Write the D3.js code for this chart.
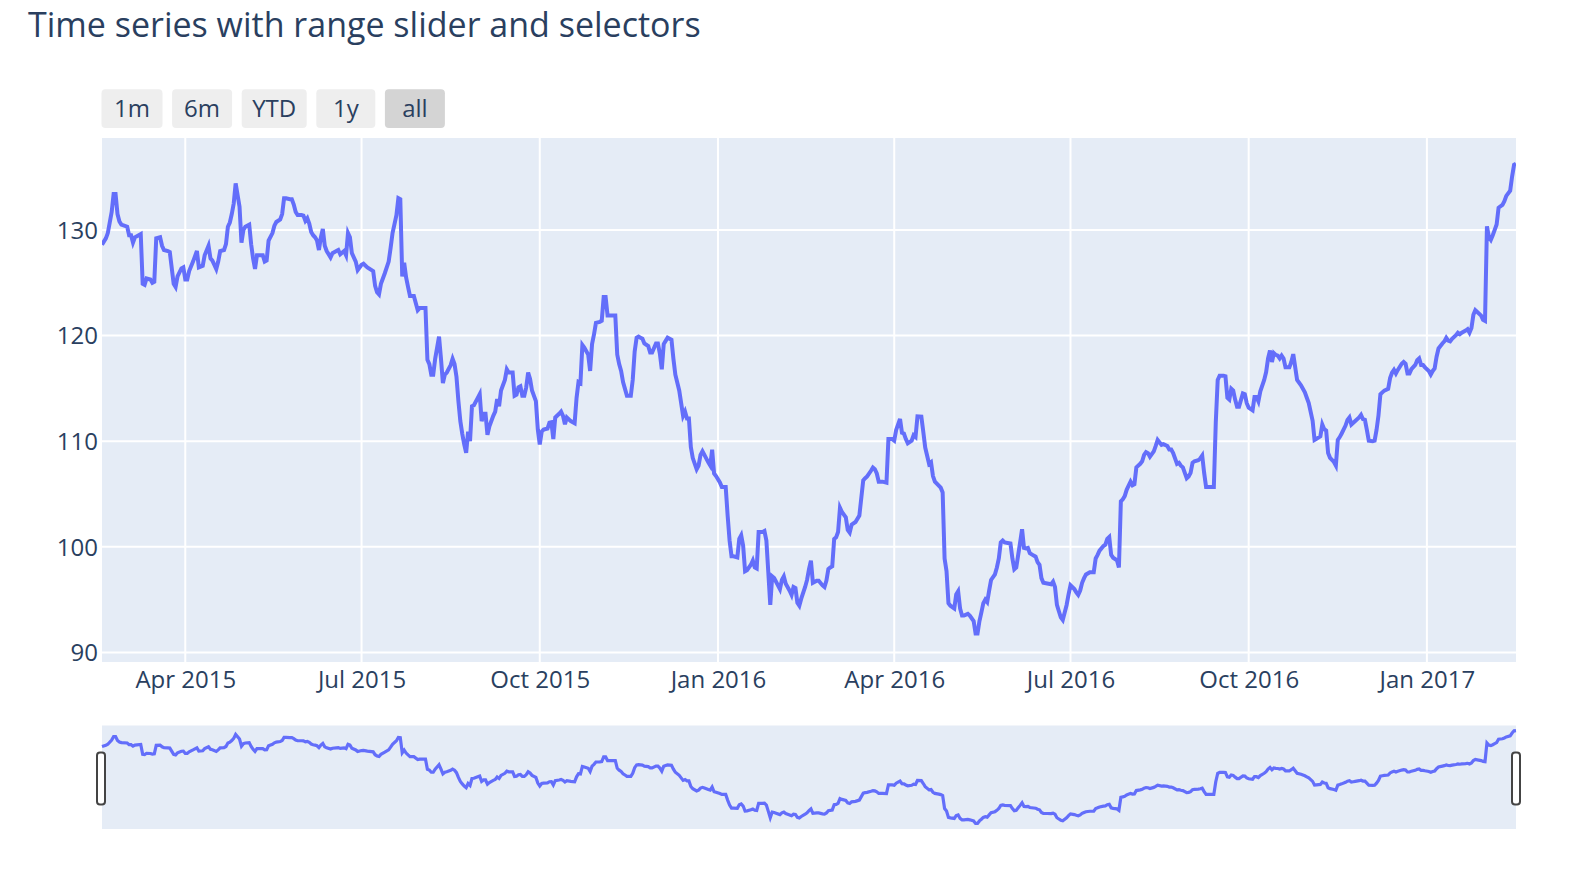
<!DOCTYPE html>
<html><head><meta charset="utf-8">
<script src="https://cdn.jsdelivr.net/npm/d3@7"></script>
<style>
html,body{margin:0;padding:0;background:#fff;}
svg{display:block;font-family:"Open Sans",verdana,arial,sans-serif;}
</style>
</head><body>
<svg id="chart" width="1591" height="880"></svg>
<script>
const chartTitle = "Time series with range slider and selectors";
const selectorLabels = ["1m","6m","YTD","1y","all"];
const activeSelector = "all";
const yTickValues = [90,100,110,120,130];
const xTickDates = ["2015-04-01","2015-07-01","2015-10-01","2016-01-01","2016-04-01","2016-07-01","2016-10-01","2017-01-01"];
const xTickLabels = ["Apr 2015","Jul 2015","Oct 2015","Jan 2016","Apr 2016","Jul 2016","Oct 2016","Jan 2017"];
const yAxisRange = [89.1, 138.7];

const dates = [
"2015-02-17","2015-02-19","2015-02-20","2015-02-22","2015-02-23","2015-02-24","2015-02-25","2015-02-26","2015-02-27",
"2015-03-02","2015-03-03","2015-03-04","2015-03-05","2015-03-06","2015-03-09","2015-03-10","2015-03-11","2015-03-12","2015-03-14","2015-03-15","2015-03-16","2015-03-17","2015-03-19","2015-03-20","2015-03-21","2015-03-23","2015-03-24","2015-03-26","2015-03-27","2015-03-28","2015-03-30","2015-03-31",
"2015-04-01","2015-04-02","2015-04-03","2015-04-05","2015-04-07","2015-04-08","2015-04-10","2015-04-11","2015-04-13","2015-04-14","2015-04-15","2015-04-17","2015-04-18","2015-04-19","2015-04-21","2015-04-22","2015-04-23","2015-04-24","2015-04-25","2015-04-26","2015-04-27","2015-04-29","2015-04-30",
"2015-05-01","2015-05-02","2015-05-04","2015-05-05","2015-05-06","2015-05-07","2015-05-08","2015-05-10","2015-05-11","2015-05-12","2015-05-13","2015-05-14","2015-05-16","2015-05-17","2015-05-18","2015-05-20","2015-05-21","2015-05-22","2015-05-23","2015-05-25","2015-05-26","2015-05-27","2015-05-28","2015-05-29","2015-05-31",
"2015-06-01","2015-06-02","2015-06-03","2015-06-04","2015-06-05","2015-06-06","2015-06-07","2015-06-08","2015-06-09","2015-06-10","2015-06-11","2015-06-12","2015-06-13","2015-06-15","2015-06-16","2015-06-18","2015-06-19","2015-06-20","2015-06-22","2015-06-23","2015-06-24","2015-06-25","2015-06-26","2015-06-28","2015-06-29",
"2015-07-01","2015-07-02","2015-07-04","2015-07-07","2015-07-08","2015-07-09","2015-07-10","2015-07-11","2015-07-13","2015-07-15","2015-07-16","2015-07-17","2015-07-19","2015-07-20","2015-07-21","2015-07-22","2015-07-23","2015-07-24","2015-07-25","2015-07-26","2015-07-28","2015-07-30","2015-07-31",
"2015-08-03","2015-08-04","2015-08-05","2015-08-06","2015-08-07","2015-08-08","2015-08-10","2015-08-11","2015-08-12","2015-08-13","2015-08-14","2015-08-16","2015-08-17","2015-08-18","2015-08-19","2015-08-20","2015-08-21","2015-08-22","2015-08-23","2015-08-24","2015-08-25","2015-08-26","2015-08-27","2015-08-28","2015-08-30","2015-08-31",
"2015-09-01","2015-09-02","2015-09-03","2015-09-04","2015-09-05","2015-09-07","2015-09-08","2015-09-09","2015-09-10","2015-09-11","2015-09-13","2015-09-14","2015-09-15","2015-09-17","2015-09-18","2015-09-19","2015-09-20","2015-09-21","2015-09-22","2015-09-23","2015-09-24","2015-09-25","2015-09-26","2015-09-27","2015-09-29","2015-09-30",
"2015-10-01","2015-10-02","2015-10-03","2015-10-05","2015-10-06","2015-10-07","2015-10-08","2015-10-09","2015-10-11","2015-10-12","2015-10-13","2015-10-14","2015-10-15","2015-10-17","2015-10-19","2015-10-20","2015-10-21","2015-10-22","2015-10-23","2015-10-24","2015-10-26","2015-10-27","2015-10-28","2015-10-29","2015-10-30",
"2015-11-01","2015-11-02","2015-11-03","2015-11-04","2015-11-05","2015-11-09","2015-11-10","2015-11-11","2015-11-12","2015-11-13","2015-11-14","2015-11-15","2015-11-17","2015-11-18","2015-11-19","2015-11-20","2015-11-21","2015-11-22","2015-11-23","2015-11-24","2015-11-26","2015-11-27","2015-11-28","2015-11-30",
"2015-12-01","2015-12-02","2015-12-03","2015-12-04","2015-12-05","2015-12-06","2015-12-08","2015-12-09","2015-12-10","2015-12-12","2015-12-13","2015-12-14","2015-12-15","2015-12-16","2015-12-17","2015-12-18","2015-12-19","2015-12-21","2015-12-22","2015-12-23","2015-12-24","2015-12-25","2015-12-27","2015-12-28","2015-12-29","2015-12-30","2015-12-31",
"2016-01-02","2016-01-03","2016-01-05","2016-01-06","2016-01-07","2016-01-08","2016-01-09","2016-01-11","2016-01-12","2016-01-13","2016-01-14","2016-01-15","2016-01-16","2016-01-18","2016-01-19","2016-01-20","2016-01-21","2016-01-22","2016-01-24","2016-01-25","2016-01-26","2016-01-27","2016-01-28","2016-01-29","2016-01-30","2016-01-31",
"2016-02-02","2016-02-03","2016-02-04","2016-02-05","2016-02-07","2016-02-08","2016-02-09","2016-02-10","2016-02-11","2016-02-12","2016-02-13","2016-02-15","2016-02-16","2016-02-17","2016-02-18","2016-02-19","2016-02-21","2016-02-22","2016-02-24","2016-02-25","2016-02-26","2016-02-27","2016-02-28","2016-02-29",
"2016-03-01","2016-03-02","2016-03-03","2016-03-04","2016-03-05","2016-03-07","2016-03-08","2016-03-09","2016-03-10","2016-03-12","2016-03-14","2016-03-16","2016-03-17","2016-03-18","2016-03-20","2016-03-21","2016-03-22","2016-03-23","2016-03-24","2016-03-26","2016-03-28","2016-03-29","2016-03-31",
"2016-04-01","2016-04-02","2016-04-04","2016-04-05","2016-04-06","2016-04-07","2016-04-08","2016-04-10","2016-04-11","2016-04-12","2016-04-13","2016-04-15","2016-04-16","2016-04-17","2016-04-19","2016-04-20","2016-04-21","2016-04-22","2016-04-24","2016-04-25","2016-04-26","2016-04-27","2016-04-28","2016-04-29","2016-04-30",
"2016-05-02","2016-05-03","2016-05-04","2016-05-05","2016-05-06","2016-05-07","2016-05-09","2016-05-10","2016-05-12","2016-05-13","2016-05-14","2016-05-15","2016-05-16","2016-05-17","2016-05-18","2016-05-19","2016-05-20","2016-05-21","2016-05-23","2016-05-24","2016-05-25","2016-05-26","2016-05-27","2016-05-28","2016-05-31",
"2016-06-01","2016-06-02","2016-06-03","2016-06-04","2016-06-05","2016-06-06","2016-06-07","2016-06-08","2016-06-09","2016-06-10","2016-06-12","2016-06-13","2016-06-14","2016-06-15","2016-06-16","2016-06-17","2016-06-19","2016-06-21","2016-06-22","2016-06-23","2016-06-24","2016-06-25","2016-06-26","2016-06-27","2016-06-29","2016-06-30",
"2016-07-01","2016-07-03","2016-07-04","2016-07-05","2016-07-06","2016-07-07","2016-07-08","2016-07-09","2016-07-11","2016-07-13","2016-07-14","2016-07-15","2016-07-16","2016-07-18","2016-07-19","2016-07-20","2016-07-21","2016-07-22","2016-07-23","2016-07-25","2016-07-26","2016-07-27","2016-07-28","2016-07-29","2016-07-30",
"2016-08-01","2016-08-02","2016-08-03","2016-08-04","2016-08-06","2016-08-07","2016-08-08","2016-08-09","2016-08-10","2016-08-11","2016-08-13","2016-08-14","2016-08-15","2016-08-17","2016-08-18","2016-08-20","2016-08-21","2016-08-22","2016-08-23","2016-08-25","2016-08-26","2016-08-27","2016-08-28","2016-08-30","2016-08-31",
"2016-09-01","2016-09-02","2016-09-03","2016-09-05","2016-09-06","2016-09-07","2016-09-08","2016-09-09","2016-09-11","2016-09-13","2016-09-14","2016-09-15","2016-09-16","2016-09-18","2016-09-19","2016-09-20","2016-09-21","2016-09-22","2016-09-23","2016-09-24","2016-09-25","2016-09-26","2016-09-28","2016-09-29","2016-09-30",
"2016-10-01","2016-10-03","2016-10-04","2016-10-05","2016-10-06","2016-10-07","2016-10-09","2016-10-10","2016-10-11","2016-10-12","2016-10-13","2016-10-14","2016-10-15","2016-10-16","2016-10-17","2016-10-18","2016-10-19","2016-10-20","2016-10-22","2016-10-23","2016-10-24","2016-10-26","2016-10-28","2016-10-30","2016-10-31",
"2016-11-01","2016-11-03","2016-11-04","2016-11-05","2016-11-07","2016-11-08","2016-11-09","2016-11-10","2016-11-11","2016-11-12","2016-11-14","2016-11-15","2016-11-16","2016-11-17","2016-11-18","2016-11-20","2016-11-21","2016-11-22","2016-11-23","2016-11-24","2016-11-25","2016-11-27","2016-11-28","2016-11-29","2016-11-30",
"2016-12-01","2016-12-02","2016-12-04","2016-12-05","2016-12-06","2016-12-07","2016-12-08","2016-12-09","2016-12-10","2016-12-12","2016-12-13","2016-12-14","2016-12-15","2016-12-16","2016-12-17","2016-12-19","2016-12-20","2016-12-21","2016-12-22","2016-12-23","2016-12-24","2016-12-26","2016-12-27","2016-12-28","2016-12-29","2016-12-30","2016-12-31",
"2017-01-02","2017-01-03","2017-01-04","2017-01-05","2017-01-06","2017-01-07","2017-01-09","2017-01-10","2017-01-11","2017-01-12","2017-01-13","2017-01-14","2017-01-16","2017-01-17","2017-01-18","2017-01-19","2017-01-21","2017-01-22","2017-01-23","2017-01-24","2017-01-25","2017-01-26","2017-01-27","2017-01-29","2017-01-30","2017-01-31",
"2017-02-01","2017-02-02","2017-02-03","2017-02-04","2017-02-05","2017-02-06","2017-02-07","2017-02-09","2017-02-10","2017-02-11","2017-02-13","2017-02-14","2017-02-15","2017-02-16"
];

const highs = [
128.6,129.2,129.7,131.7,133.4,133.4,131.5,130.8,130.5,
130.3,129.5,129.5,128.8,129.3,129.6,124.9,124.8,125.4,125.3,125.0,125.1,129.2,129.3,128.5,128.1,128.0,127.9,124.9,124.6,125.6,126.35,126.45,
125.3,125.3,126.1,127.0,128.0,126.45,126.6,127.6,128.5,127.3,127.1,126.3,127.0,128.0,128.1,128.65,130.3,130.7,131.5,132.5,134.4,132.2,128.8,
130.0,130.3,130.5,128.65,127.3,126.3,127.6,127.6,127.6,127.0,127.1,129.0,129.7,130.4,130.75,131.0,131.5,133.0,133.0,132.9,132.9,132.4,131.7,131.4,131.4,
131.35,130.85,131.1,130.6,129.8,129.5,129.3,129.0,128.1,129.3,130.1,128.5,128.0,127.4,127.8,128.0,128.1,127.7,128.0,127.6,129.7,129.3,127.8,127.0,126.2,
126.7,126.8,126.45,126.1,124.7,124.1,123.9,124.9,125.9,127.0,128.3,129.7,131.4,133.0,132.9,125.6,126.9,125.5,124.6,123.75,123.75,122.4,122.6,
122.6,117.7,117.3,116.3,116.3,117.8,119.9,117.8,115.5,116.3,116.5,117.2,117.8,117.3,116.1,113.8,111.9,110.7,109.7,108.9,110.9,110.0,113.3,113.4,114.1,114.45,
111.9,112.6,112.6,110.6,111.4,112.4,112.8,114.0,113.3,114.8,115.8,116.8,116.5,116.5,114.3,114.4,115.1,115.2,114.3,114.3,115.1,116.5,115.9,114.8,113.8,111.1,
109.7,110.9,111.1,111.2,111.75,111.8,110.2,112.25,112.6,112.8,112.4,111.6,112.25,111.9,111.7,114.1,115.6,115.5,119.1,118.85,118.2,116.65,119.2,120.1,121.2,
121.3,121.4,123.65,123.65,121.9,121.9,118.2,117.3,116.65,115.6,114.95,114.3,114.3,115.8,118.5,119.8,119.9,119.8,119.7,119.25,119.0,118.4,118.4,119.25,
119.25,118.3,116.8,119.2,119.5,119.8,119.6,117.8,116.3,114.8,113.6,112.4,112.8,112.15,112.15,109.45,108.4,107.35,107.7,108.7,109.05,108.7,108.0,107.7,109.2,106.95,106.7,
106.1,105.66,105.66,102.95,100.6,99.1,99.1,99.0,100.75,101.1,100.1,97.7,97.8,98.3,98.7,98.05,97.95,101.4,101.4,101.5,100.6,97.55,94.5,97.2,97.04,96.7,
96.0,96.87,97.2,96.5,95.85,95.45,96.2,96.1,94.7,94.43,95.1,96.2,96.87,97.9,98.7,96.6,96.8,96.8,96.35,96.2,96.8,97.9,98.05,98.15,
100.75,100.9,101.4,103.7,103.3,102.8,101.6,101.35,102.1,102.35,102.96,106.3,106.5,106.67,107.2,107.5,107.35,106.95,106.17,106.17,106.07,110.2,110.2,
110.05,111.07,112.1,110.8,110.73,110.2,109.8,110.05,110.56,110.4,112.35,112.32,110.9,109.4,107.85,108.0,106.7,106.17,105.8,105.6,105.15,98.9,97.7,94.67,94.43,
94.17,95.5,95.8,94.17,93.5,93.5,93.66,93.5,92.98,91.8,91.8,92.98,93.8,94.67,95.0,94.77,95.86,96.87,97.4,98.05,98.9,100.42,100.6,100.42,100.32,
98.9,97.88,98.05,99.24,100.42,101.67,99.9,99.85,99.9,99.4,99.17,99.07,98.56,98.3,97.04,96.6,96.53,96.46,96.7,96.2,94.5,93.9,93.32,93.08,94.5,95.5,
96.36,96.0,95.7,95.45,95.86,96.6,97.04,97.38,97.6,97.6,98.9,99.24,99.64,100.08,100.2,100.76,100.93,99.24,98.97,98.73,98.05,104.3,104.5,104.8,105.4,
106.17,105.83,105.93,107.52,107.86,108.1,108.7,108.97,108.87,108.53,109.04,109.55,110.12,109.65,109.72,109.55,109.21,109.21,108.87,107.86,107.96,107.69,107.52,106.5,106.67,
107.0,107.96,108.1,108.2,108.37,108.64,107.0,105.66,105.66,105.66,111.75,115.8,116.2,116.2,116.14,114.11,113.94,114.96,114.79,113.94,113.27,113.27,114.52,114.45,113.6,
113.17,112.93,114.18,114.18,113.77,114.72,115.8,116.55,117.83,118.58,117.5,118.34,118.17,118.1,117.83,118.1,117.83,116.99,116.99,117.5,118.24,115.8,115.3,114.62,114.11,
113.6,111.92,110.12,110.22,110.46,111.58,111.14,111.0,108.87,108.43,108.03,107.69,110.12,110.39,110.73,111.48,112.02,112.25,111.58,111.75,111.92,112.25,112.49,112.08,112.02,
111.07,110.05,109.99,110.05,111.07,112.42,114.45,114.62,114.79,114.96,115.97,116.48,116.75,116.41,116.75,117.33,117.5,117.33,116.41,116.41,116.82,117.22,117.66,117.83,117.22,117.22,116.99,
116.65,116.31,116.65,116.89,118.0,118.78,119.25,119.45,119.79,119.52,119.45,119.69,120.03,120.27,120.13,120.27,120.47,120.6,120.27,120.71,121.96,122.4,122.23,121.89,121.48,121.38,
130.34,129.33,129.06,129.5,130.0,130.51,132.1,132.37,132.71,133.22,133.72,135.07,136.16,136.27
];

// ---------- layout ----------
const TEXT = "#2a3f5f";
const plot = {left:102, right:1516, top:138, bottom:662};
const slider = {top:725.5, bottom:829};
const buttonLayout = {x:101.5, y:89.3, h:38.6, gap:9.6, widths:[61,60,65,59,60]};

if (dates.length !== highs.length) console.error("length mismatch", dates.length, highs.length);

const parse = d3.timeParse("%Y-%m-%d");
const data = dates.map((d,i) => ({date: parse(d), v: highs[i]}));

const svg = d3.select("#chart");

const x = d3.scaleTime().domain(d3.extent(data, d => d.date)).range([plot.left, plot.right]);
const y = d3.scaleLinear().domain(yAxisRange).range([plot.bottom, plot.top]);
const ys = d3.scaleLinear().domain(yAxisRange).range([slider.bottom, slider.top]);

// title
svg.append("text")
  .attr("x", 28).attr("y", 37)
  .attr("fill", TEXT).style("font-size", "34px")
  .text(chartTitle);

// plot background
svg.append("rect")
  .attr("x", plot.left).attr("y", plot.top)
  .attr("width", plot.right - plot.left).attr("height", plot.bottom - plot.top)
  .attr("fill", "#e5ecf6");

// grid lines
const xTicks = xTickDates.map(parse);
svg.append("g").selectAll("line").data(xTicks).join("line")
  .attr("x1", d => x(d)).attr("x2", d => x(d))
  .attr("y1", plot.top).attr("y2", plot.bottom)
  .attr("stroke", "#fff").attr("stroke-width", 2);
svg.append("g").selectAll("line").data(yTickValues).join("line")
  .attr("x1", plot.left).attr("x2", plot.right)
  .attr("y1", d => y(d)).attr("y2", d => y(d))
  .attr("stroke", "#fff").attr("stroke-width", 2);

// axes
const xAxis = svg.append("g").attr("transform", `translate(0,${plot.bottom})`)
  .call(d3.axisBottom(x).tickValues(xTicks).tickFormat((d,i) => xTickLabels[i]).tickSize(0).tickPadding(9));
const yAxis = svg.append("g").attr("transform", `translate(${plot.left},0)`)
  .call(d3.axisLeft(y).tickValues(yTickValues).tickFormat(d3.format("d")).tickSize(0).tickPadding(4));
[xAxis, yAxis].forEach(g => {
  g.select(".domain").remove();
  g.selectAll("text").attr("fill", TEXT).style("font-size", "24px")
    .style("font-family", '"Open Sans",verdana,arial,sans-serif');
});
yAxis.selectAll("text").attr("dy", "0.35em");

// clip + line
svg.append("clipPath").attr("id", "plotclip").append("rect")
  .attr("x", plot.left).attr("y", plot.top)
  .attr("width", plot.right - plot.left).attr("height", plot.bottom - plot.top);

const line = d3.line().x(d => x(d.date)).y(d => y(d.v));
svg.append("path").datum(data)
  .attr("clip-path", "url(#plotclip)")
  .attr("d", line)
  .attr("fill", "none").attr("stroke", "#636efa").attr("stroke-width", 4);

// range slider
svg.append("rect")
  .attr("x", plot.left).attr("y", slider.top)
  .attr("width", plot.right - plot.left).attr("height", slider.bottom - slider.top)
  .attr("fill", "#e5ecf6");
const sline = d3.line().x(d => x(d.date)).y(d => ys(d.v));
svg.append("path").datum(data)
  .attr("d", sline)
  .attr("fill", "none").attr("stroke", "#636efa").attr("stroke-width", 3.2);

const handleX = [plot.left - 5, plot.right - 4];
svg.append("g").selectAll("rect").data(handleX).join("rect")
  .attr("x", d => d).attr("y", 752.5)
  .attr("width", 8).attr("height", 52).attr("rx", 3)
  .attr("fill", "#fff").attr("stroke", "#444").attr("stroke-width", 2);

// range selector buttons
let bx = buttonLayout.x;
const btnPos = buttonLayout.widths.map(w => { const p = bx; bx += w + buttonLayout.gap; return p; });
const btn = svg.append("g").selectAll("g").data(selectorLabels).join("g")
  .attr("transform", (d,i) => `translate(${btnPos[i]},${buttonLayout.y})`);
btn.append("rect")
  .attr("width", (d,i) => buttonLayout.widths[i]).attr("height", buttonLayout.h)
  .attr("rx", 4)
  .attr("fill", d => d === activeSelector ? "#d4d4d4" : "#eeeeee");
btn.append("text")
  .attr("x", (d,i) => buttonLayout.widths[i] / 2).attr("y", buttonLayout.h / 2)
  .attr("dy", "0.35em").attr("text-anchor", "middle")
  .attr("fill", TEXT).style("font-size", "24px")
  .text(d => d);
</script>
</body></html>
